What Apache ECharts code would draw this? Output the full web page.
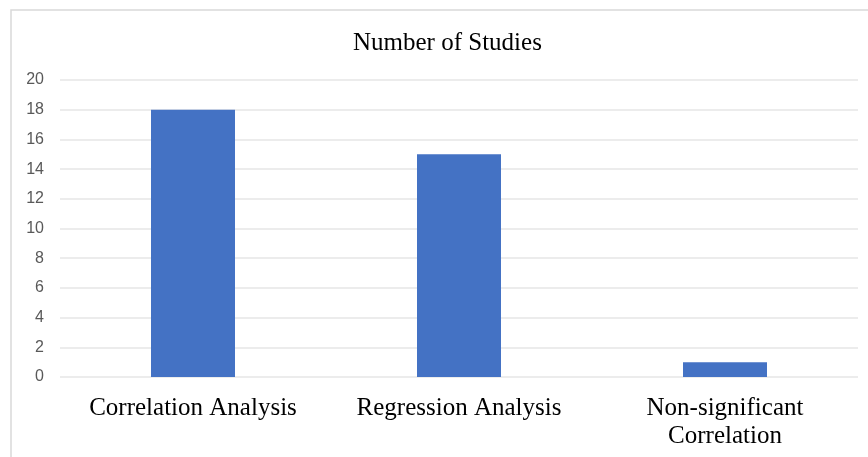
<!DOCTYPE html>
<html>
<head>
<meta charset="utf-8">
<script src="https://cdn.jsdelivr.net/npm/echarts@6/dist/echarts.min.js"></script>
<style>
html, body { margin: 0; padding: 0; background: #fff; }
#main { width: 868px; height: 457px; }
</style>
</head>
<body>
<div id="main"></div>
<script>
var categories = ['Correlation Analysis', 'Regression Analysis', 'Non-significant\nCorrelation'];
var studies = [18, 15, 1];
var yTicks = [0, 2, 4, 6, 8, 10, 12, 14, 16, 18, 20];

var myChart = echarts.init(document.getElementById('main'));
var option = {
    animation: false,
    backgroundColor: '#ffffff',
    title: {
        text: 'Number of Studies',
        left: 348,
        top: 26,
        textStyle: {
            fontFamily: 'Liberation Serif',
            fontWeight: 'normal',
            fontSize: 25,
            color: '#000000'
        }
    },
    graphic: [{
        type: 'rect',
        shape: { x: 11, y: 10, width: 900, height: 500 },
        style: { fill: 'none', stroke: '#d9d9d9', lineWidth: 1.5 },
        silent: true
    }],
    grid: {
        left: 60,
        right: 10,
        top: 80,
        bottom: 80
    },
    xAxis: {
        type: 'category',
        data: categories,
        axisLine: { show: false },
        axisTick: { show: false },
        axisLabel: {
            interval: 0,
            margin: 17,
            fontFamily: 'Liberation Serif',
            fontSize: 25,
            lineHeight: 28,
            color: '#000000'
        }
    },
    yAxis: {
        type: 'value',
        min: yTicks[0],
        max: yTicks[yTicks.length - 1],
        interval: 2,
        axisLine: { show: false },
        axisTick: { show: false },
        axisLabel: {
            margin: 16,
            fontFamily: 'Liberation Sans',
            fontSize: 16,
            color: '#595959'
        },
        splitLine: { lineStyle: { color: '#e6e6e6', width: 1.5 } }
    },
    series: [{
        name: 'Number of Studies',
        type: 'bar',
        data: studies,
        barWidth: 84,
        itemStyle: { color: '#4472c4' }
    }]
};
myChart.setOption(option);
</script>
</body>
</html>
